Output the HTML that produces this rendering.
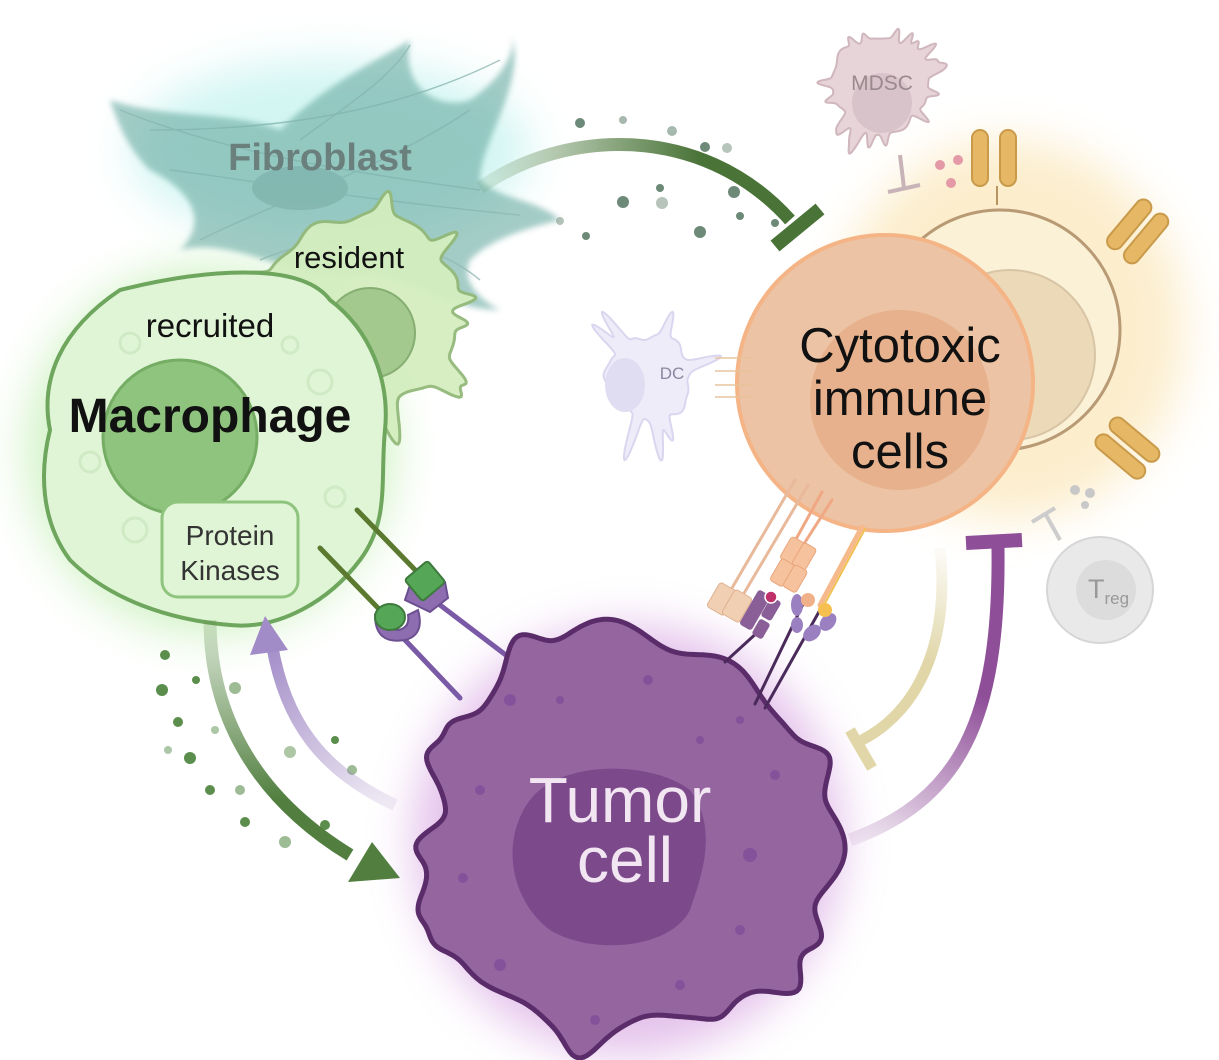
<!DOCTYPE html>
<html><head><meta charset="utf-8"><style>
html,body{margin:0;padding:0;background:#fff;}
svg{display:block;font-family:"Liberation Sans",sans-serif;}
</style></head><body>
<svg id="s" width="1219" height="1060" viewBox="0 0 1219 1060" xmlns="http://www.w3.org/2000/svg">
<defs>
<filter id="blur20" x="-50%" y="-50%" width="200%" height="200%"><feGaussianBlur stdDeviation="22"/></filter>
<filter id="blur4"><feGaussianBlur stdDeviation="3"/></filter>
<linearGradient id="gArc" x1="480" y1="0" x2="700" y2="0" gradientUnits="userSpaceOnUse"><stop offset="0" stop-color="#4a7a3a" stop-opacity="0.1"/><stop offset="1" stop-color="#4a7338"/></linearGradient>
<linearGradient id="gDown" x1="0" y1="620" x2="0" y2="800" gradientUnits="userSpaceOnUse"><stop offset="0" stop-color="#5b8a48" stop-opacity="0.2"/><stop offset="1" stop-color="#527f40"/></linearGradient>
<linearGradient id="pUp" x1="400" y1="810" x2="270" y2="640" gradientUnits="userSpaceOnUse"><stop offset="0" stop-color="#9d85c0" stop-opacity="0.1"/><stop offset="1" stop-color="#a28cc8"/></linearGradient>
<linearGradient id="pT" x1="850" y1="840" x2="1000" y2="560" gradientUnits="userSpaceOnUse"><stop offset="0" stop-color="#8e4e98" stop-opacity="0.1"/><stop offset="0.6" stop-color="#8e4e98"/></linearGradient>
<linearGradient id="yT" x1="940" y1="550" x2="870" y2="760" gradientUnits="userSpaceOnUse"><stop offset="0" stop-color="#e0d6a8" stop-opacity="0.1"/><stop offset="0.5" stop-color="#e0d6a8"/></linearGradient>
</defs>

<!-- glows -->
<ellipse cx="330" cy="150" rx="200" ry="90" fill="#a6ece6" opacity="0.5" filter="url(#blur20)"/>
<ellipse cx="210" cy="450" rx="185" ry="185" fill="#d3f3c8" filter="url(#blur20)"/>
<ellipse cx="1010" cy="330" rx="175" ry="190" fill="#fbe6b8" opacity="0.7" filter="url(#blur20)"/>
<ellipse cx="628" cy="840" rx="215" ry="215" fill="#d9a8e3" opacity="0.7" filter="url(#blur20)"/>

<!-- fibroblast -->
<g opacity="0.6">
<path d="M110,100 C170,120 230,110 280,130 C330,80 380,60 410,40 C400,90 440,110 470,100 C500,80 520,50 510,30 C530,80 480,140 480,180 C500,200 540,200 560,220 C520,230 490,240 470,260 C460,280 480,300 500,310 C460,310 430,290 400,280 C370,270 330,280 300,270 C260,260 220,240 180,250 C210,220 190,190 150,170 C130,150 120,130 110,100 Z" fill="#6aaba2" filter="url(#blur4)"/>
<g fill="none" stroke="#4e8c84" stroke-width="1.5" opacity="0.8">
<path d="M120,110 C220,150 330,170 480,190"/><path d="M170,170 C250,180 360,200 520,215"/><path d="M200,240 C280,200 380,170 470,110"/><path d="M260,260 C330,230 420,230 480,280"/><path d="M300,140 C340,110 390,80 410,45"/><path d="M150,130 C250,130 380,120 500,60"/>
</g>
<ellipse cx="300" cy="188" rx="48" ry="22" fill="#4f8f86"/>
</g>
<text x="320" y="170" font-size="38" font-weight="bold" fill="#6b7f7c" text-anchor="middle">Fibroblast</text>

<!-- resident macrophage -->
<path id="resident" fill="#d4eebf" stroke="#93b97a" stroke-width="3" opacity="0.95"/>
<circle cx="370" cy="333" r="45" fill="#a4c98f" stroke="#86ad72" stroke-width="2"/>
<text x="349" y="268" font-size="31" fill="#111" text-anchor="middle">resident</text>

<!-- recruited macrophage -->
<path id="recruited" d="M120,290 C200,270 300,260 330,300 C370,330 390,380 385,430 C380,480 390,520 360,560 C330,600 280,630 230,625 C170,620 110,600 70,560 C40,520 40,470 50,430 C40,380 60,330 120,290 Z" fill="#e0f5d6" stroke="#6fa65e" stroke-width="4"/>
<g fill="none" stroke="#cfeac4" stroke-width="3">
<circle cx="130" cy="343" r="10"/><circle cx="320" cy="382" r="12"/><circle cx="90" cy="462" r="10"/><circle cx="135" cy="530" r="12"/><circle cx="335" cy="497" r="10"/><circle cx="290" cy="345" r="8"/>
</g>
<circle cx="180" cy="437" r="77" fill="#8fc47e" stroke="#74ad63" stroke-width="3"/>
<text x="210" y="337" font-size="33" fill="#111" text-anchor="middle">recruited</text>
<text x="210" y="432" font-size="48" font-weight="bold" fill="#111" text-anchor="middle">Macrophage</text>
<rect x="162" y="502" width="136" height="95" rx="16" fill="#e0f5d6" stroke="#8fc47e" stroke-width="3"/>
<text x="230" y="545" font-size="28" fill="#333" text-anchor="middle">Protein</text>
<text x="230" y="580" font-size="28" fill="#333" text-anchor="middle">Kinases</text>

<!-- green dots -->
<g fill="#5b8e4c">
<circle cx="165" cy="655" r="5"/><circle cx="162" cy="690" r="6"/><circle cx="196" cy="680" r="4"/><circle cx="235" cy="688" r="6" opacity="0.6"/><circle cx="178" cy="722" r="5"/><circle cx="215" cy="730" r="4" opacity="0.5"/><circle cx="168" cy="750" r="4" opacity="0.5"/><circle cx="190" cy="758" r="6"/><circle cx="240" cy="790" r="5" opacity="0.6"/><circle cx="210" cy="790" r="5"/><circle cx="245" cy="822" r="5"/><circle cx="285" cy="842" r="6" opacity="0.6"/><circle cx="290" cy="752" r="6" opacity="0.5"/><circle cx="335" cy="740" r="4"/><circle cx="325" cy="825" r="5"/><circle cx="352" cy="770" r="5" opacity="0.6"/>
</g>

<!-- arrows -->
<path d="M480,188 C560,130 700,120 790,220" fill="none" stroke="url(#gArc)" stroke-width="13"/>
<line x1="775" y1="246" x2="820" y2="209" stroke="#4a7338" stroke-width="14"/>
<g fill="#6d8a78">
<circle cx="580" cy="123" r="5"/><circle cx="623" cy="120" r="4" opacity="0.6"/><circle cx="672" cy="131" r="5" opacity="0.6"/><circle cx="705" cy="147" r="5"/><circle cx="727" cy="148" r="5" opacity="0.5"/><circle cx="660" cy="188" r="4"/><circle cx="623" cy="202" r="6"/><circle cx="662" cy="203" r="6" opacity="0.5"/><circle cx="700" cy="232" r="6"/><circle cx="740" cy="216" r="4"/><circle cx="586" cy="236" r="4"/><circle cx="734" cy="192" r="6"/><circle cx="775" cy="223" r="4"/><circle cx="560" cy="221" r="4" opacity="0.5"/>
</g>
<path d="M210,620 C210,720 260,800 350,855" fill="none" stroke="url(#gDown)" stroke-width="13"/>
<polygon points="400,878 348,882 372,842" fill="#527f40"/>
<path d="M395,805 C320,770 285,720 272,645" fill="none" stroke="url(#pUp)" stroke-width="12"/>
<polygon points="265,616 250,655 288,650" fill="#a28cc8"/>
<path d="M940,548 C950,640 920,710 862,740" fill="none" stroke="url(#yT)" stroke-width="11"/>
<line x1="850" y1="730" x2="872" y2="768" stroke="#e0d6a8" stroke-width="11"/>
<path d="M850,840 C960,800 1000,720 998,548" fill="none" stroke="url(#pT)" stroke-width="13"/>
<line x1="966" y1="543" x2="1022" y2="540" stroke="#8e4e98" stroke-width="14"/>

<!-- MDSC -->
<path id="mdsc" fill="#e6d4d8" stroke="#d0b6bd" stroke-width="2"/>
<circle cx="882" cy="103" r="30" fill="#d8c3ca"/>
<text x="882" y="90" font-size="21" fill="#9a8a8e" text-anchor="middle">MDSC</text>
<line x1="900" y1="155" x2="904" y2="188" stroke="#c7b3b8" stroke-width="4"/>
<line x1="888" y1="192" x2="920" y2="185" stroke="#c7b3b8" stroke-width="4"/>
<g fill="#e39aa6"><circle cx="940" cy="165" r="5"/><circle cx="958" cy="160" r="5"/><circle cx="951" cy="183" r="5"/></g>

<!-- yellow cell -->
<g fill="#e6b865" stroke="#c89a4a" stroke-width="2">
<rect x="972" y="130" width="16" height="56" rx="8"/><rect x="1000" y="130" width="16" height="56" rx="8"/>
<g transform="rotate(-50 1130 225)"><rect x="1100" y="216" width="60" height="16" rx="8"/><rect x="1100" y="238" width="60" height="16" rx="8"/></g>
<g transform="rotate(40 1130 445)"><rect x="1100" y="430" width="60" height="16" rx="8"/><rect x="1100" y="452" width="60" height="16" rx="8"/></g>
</g>
<line x1="997" y1="186" x2="997" y2="205" stroke="#b89460" stroke-width="2"/>
<circle cx="1000" cy="330" r="120" fill="#fbf1d6" stroke="#b89a74" stroke-width="3"/>
<circle cx="1010" cy="355" r="85" fill="#ecd9b8" stroke="#d8c5a6" stroke-width="2"/>

<!-- cytotoxic cell -->
<circle cx="885" cy="383" r="148" fill="#ecc3a4" stroke="#f4b486" stroke-width="4"/>
<circle cx="900" cy="400" r="90" fill="#e6b18c"/>
<text x="900" y="362" font-size="49" fill="#111" text-anchor="middle">Cytotoxic</text>
<text x="900" y="415" font-size="49" fill="#111" text-anchor="middle">immune</text>
<text x="900" y="468" font-size="49" fill="#111" text-anchor="middle">cells</text>

<!-- DC -->
<path id="dc" fill="#eeecf8" stroke="#dad6ef" stroke-width="2"/>
<ellipse cx="625" cy="385" rx="20" ry="27" fill="#e0ddf2"/>
<text x="672" y="379" font-size="17" fill="#8a88a0" text-anchor="middle">DC</text>
<g stroke="#e8c39a" stroke-width="2" opacity="0.7"><line x1="715" y1="358" x2="753" y2="358"/><line x1="715" y1="371" x2="753" y2="371"/><line x1="715" y1="385" x2="753" y2="385"/><line x1="715" y1="397" x2="753" y2="397"/></g>

<!-- Treg -->
<circle cx="1100" cy="590" r="53" fill="#e9e9e9" stroke="#d6d6d6" stroke-width="2"/>
<circle cx="1106" cy="590" r="30" fill="#dcdcdc"/>
<text x="1088" y="598" font-size="27" fill="#999">T<tspan font-size="17" dy="6">reg</tspan></text>
<line x1="1060" y1="540" x2="1046" y2="515" stroke="#ccc" stroke-width="4"/>
<line x1="1032" y1="522" x2="1055" y2="508" stroke="#ccc" stroke-width="4"/>
<g fill="#c8c8c8"><circle cx="1075" cy="490" r="5"/><circle cx="1090" cy="493" r="5"/><circle cx="1085" cy="505" r="4"/></g>

<!-- receptors left -->
<g stroke-linecap="round">
<line x1="357" y1="510" x2="420" y2="575" stroke="#5b7a30" stroke-width="5"/>
<line x1="320" y1="548" x2="378" y2="608" stroke="#5b7a30" stroke-width="5"/>
<line x1="440" y1="605" x2="515" y2="662" stroke="#7a5aa6" stroke-width="5"/>
<line x1="405" y1="640" x2="460" y2="698" stroke="#7a5aa6" stroke-width="5"/>
</g>
<path d="M425,567 L445,582 L448,598 L430,612 L405,600 L410,585" fill="#8d6db0" stroke="#6b4f90" stroke-width="2"/>
<rect x="410" y="567" width="30" height="28" rx="3" fill="#55a657" stroke="#3e7a3d" stroke-width="2" transform="rotate(-40 425 581)"/>
<path d="M375,615 Q375,645 405,640 Q425,635 418,610 L408,615 Q410,628 398,630 Q385,630 385,618 Z" fill="#8d6db0" stroke="#6b4f90" stroke-width="2"/>
<ellipse cx="390" cy="617" rx="15" ry="13" fill="#55a657" stroke="#3e7a3d" stroke-width="2"/>

<!-- tumor cell -->
<path id="tumor" fill="#9565a0" stroke="#5a2c6a" stroke-width="5"/>
<path d="M530,800 C560,760 650,760 690,790 C720,830 700,880 690,910 C670,950 590,955 550,930 C510,900 500,840 530,800 Z" fill="#7c4a8a"/>
<g fill="#84529a"><circle cx="510" cy="700" r="6"/><circle cx="560" cy="700" r="4"/><circle cx="648" cy="680" r="5"/><circle cx="740" cy="720" r="4"/><circle cx="480" cy="790" r="5"/><circle cx="750" cy="855" r="7"/><circle cx="775" cy="775" r="5"/><circle cx="463" cy="878" r="5"/><circle cx="500" cy="965" r="6"/><circle cx="680" cy="985" r="5"/><circle cx="595" cy="1020" r="5"/><circle cx="740" cy="930" r="5"/><circle cx="700" cy="740" r="4"/></g>
<text x="620" y="822" font-size="64" fill="#f2e6f2" text-anchor="middle">Tumor</text>
<text x="625" y="882" font-size="64" fill="#f2e6f2" text-anchor="middle">cell</text>

<!-- receptors right -->
<g stroke-linecap="round" stroke-width="3">
<line x1="795" y1="480" x2="725" y2="600" stroke="#e8b99a"/>
<line x1="808" y1="485" x2="740" y2="600" stroke="#e8b99a"/>
<line x1="822" y1="492" x2="790" y2="550" stroke="#f0a884"/>
<line x1="832" y1="500" x2="800" y2="550" stroke="#f0a884"/>
<line x1="862" y1="527" x2="820" y2="605" stroke="#f5b98c" stroke-width="5"/>
<line x1="865" y1="529" x2="823" y2="607" stroke="#f0c050" stroke-width="2"/>
<line x1="760" y1="630" x2="725" y2="662" stroke="#4a2a5a"/>
<line x1="805" y1="600" x2="755" y2="704" stroke="#4a2a5a"/>
<line x1="820" y1="610" x2="765" y2="708" stroke="#4a2a5a"/>
</g>
<g fill="#f6c29e" stroke="#e9a57a" stroke-width="1">
<rect x="785" y="538" width="15" height="25" rx="3" transform="rotate(30 792 550)"/>
<rect x="797" y="544" width="15" height="25" rx="3" transform="rotate(30 804 556)"/>
<rect x="775" y="560" width="15" height="25" rx="3" transform="rotate(30 782 572)"/>
<rect x="788" y="566" width="15" height="25" rx="3" transform="rotate(30 795 578)"/>
</g>
<g fill="#f0cfb2" stroke="#e0b090" stroke-width="1">
<rect x="712" y="585" width="20" height="28" rx="3" transform="rotate(30 722 599)"/>
<rect x="727" y="592" width="20" height="28" rx="3" transform="rotate(30 737 606)"/>
</g>
<g fill="#8a5e96">
<rect x="748" y="590" width="14" height="40" rx="3" transform="rotate(30 755 610)"/>
<rect x="765" y="598" width="12" height="22" rx="3" transform="rotate(30 771 609)"/>
<rect x="755" y="620" width="12" height="18" rx="3" transform="rotate(30 761 629)"/>
</g>
<circle cx="771" cy="597" r="6" fill="#c0306a" stroke="#fff" stroke-width="1.5"/>
<g fill="#9a80c0"><ellipse cx="797" cy="605" rx="6" ry="11"/><ellipse cx="797" cy="625" rx="6" ry="8"/><ellipse cx="828" cy="622" rx="7" ry="10" transform="rotate(40 828 622)"/><ellipse cx="812" cy="633" rx="7" ry="10" transform="rotate(50 812 633)"/></g>
<circle cx="808" cy="600" r="7" fill="#f0b08a"/>
<circle cx="825" cy="610" r="7" fill="#f5c050"/>
</svg>
<script>
function blob(id,cx,cy,r,n,amp,spike,seed,sx,sy,w){
  var el=document.getElementById(id); if(!el)return;
  var N=480,s=seed;w=w||0.004;
  function rnd(){s=(s*9301+49297)%233280;return s/233280;}
  var ph=[];for(var k=0;k<n;k++)ph.push({a:rnd()*Math.PI*2,h:0.5+rnd()});
  var d="";
  for(var i=0;i<=N;i++){
    var t=i/N*Math.PI*2, rr=r;
    rr+=amp*Math.sin(t*3+seed)*0.5+amp*0.4*Math.sin(t*7+seed*2)+amp*0.3*Math.sin(t*11+seed);
    for(var k=0;k<n;k++){var df=Math.atan2(Math.sin(t-ph[k].a),Math.cos(t-ph[k].a));rr+=spike*ph[k].h*Math.exp(-df*df/w);}
    var x=cx+rr*Math.cos(t)*(sx||1), y=cy+rr*Math.sin(t)*(sy||1);
    d+=(i?"L":"M")+x.toFixed(1)+","+y.toFixed(1);
  }
  el.setAttribute("d",d+"Z");
}
blob("tumor",628,835,190,16,16,14,7,1.05,1.05,0.008);
blob("mdsc",880,85,48,20,4,14,3);
blob("dc",650,378,42,8,5,30,11,1,1,0.006);
blob("resident",360,310,95,12,8,22,5,1.05,1);
</script>
</body></html>
